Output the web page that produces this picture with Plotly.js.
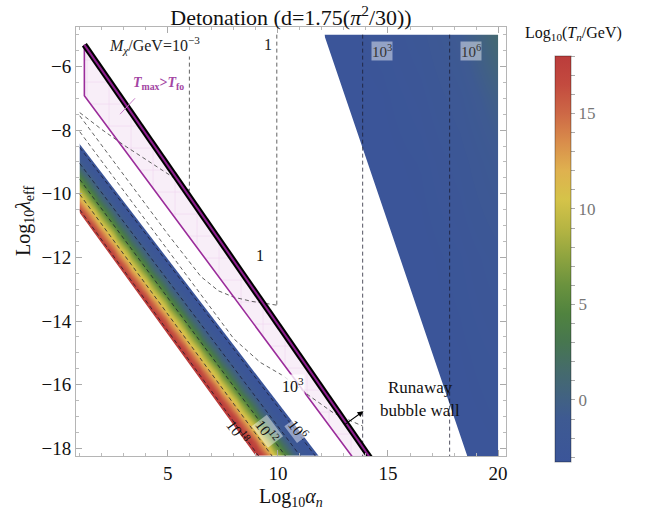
<!DOCTYPE html>
<html><head><meta charset="utf-8">
<script src="https://cdn.plot.ly/plotly-3.0.1.min.js"></script>
<style>body{margin:0;background:#fff}</style>
</head><body><div id="plot" style="width:647px;height:516px"></div>
<script>
// ---------- data ----------
// Tn profile across the nucleating band (offset above its lower edge, at fixed alpha)
const bandS  = [0, 0.2, 0.4, 0.6, 0.8, 1.0, 1.2, 1.4, 1.6, 1.8, 2.0, 2.2];
const bandTn = [18, 15.5, 13, 10.5, 8, 5.5, 3, 1, -0.5, -1.8, -2.8, -3.25];
const bandLower = {x0: 1, y0: -10.6, slope: -0.955};
const bandUpper = {x0: 1, y0: -8.44, slope: -0.903};
const bandAxisSlope = -0.93;

// runaway region (right) Tn grid
const runX = [13, 14.75, 16.5, 18.25, 20];
const runY = [-18, -15, -12, -9, -7, -5];
const runZ = [
  [-3.25, -3.25, -3.25, -3.25, -3.1],
  [-3.25, -3.25, -3.25, -3.1, -2.8],
  [-3.25, -3.25, -3.2, -2.9, -2.3],
  [-3.25, -3.2, -3.0, -2.4, -1.2],
  [-3.25, -3.1, -2.7, -1.8, -0.2],
  [-3.2, -2.9, -2.3, -1.0, 1.2]
];
const runEdgeX = [12.1, 18.6];
const runEdgeY = [-5.0, -18.24];

// runaway wall (thick black) and Tmax>Tfo boundary
const wallX = [1.21, 14.4];
const wallY = [-5.32, -18.51];
const foX = [1.21, 1.21, 13.6];
const foY = [-5.32, -6.92, -18.47];

// M_chi contours: vertical parts
const massX   = [5.98, 9.95, 13.85, 17.8];
const massTop = [-5.0, -5.0, -5.0, -5.0];
const massBot = [-9.9, -13.5, -18.24, -18.24];
// transition curves
const curveAx = [1.0, 2.0, 3.0, 4.0, 4.8, 5.5, 5.98];
const curveAy = [-7.45, -7.98, -8.47, -8.93, -9.3, -9.6, -9.9];
const curveBx = [1.0, 3.0, 5.0, 6.5, 7.3, 8.0, 8.8, 9.95];
const curveBy = [-7.55, -9.41, -11.27, -12.6, -13.05, -13.25, -13.38, -13.5];
const curveCx = [1.0, 4.0, 8.0, 9.2, 10.24, 11.47, 12.51, 12.97, 13.85];
const curveCy = [-8.05, -10.84, -14.56, -15.3, -15.72, -16.37, -16.88, -17.03, -17.3];
// contours inside the band (offset above lower edge at alpha=1)
const bandContS = [0.1, 0.58, 1.05, 1.55, 2.05];

// ---------- build traces ----------
const step = bandS[1] - bandS[0];
const dx = step / Math.abs(bandAxisSlope);
const hx = [], hy = [], hz = [];
for (let c = 0; c <= 51; c++) hx.push(1 + c * dx);
for (let r = 0; r <= 56; r++) hy.push(-19 + r * step);
for (let r = 0; r < hy.length; r++) {
  const row = [];
  for (let c = 0; c < hx.length; c++) {
    const yl = bandLower.y0 + bandAxisSlope * (hx[c] - 1);
    let k = Math.round((hy[r] - yl) / step);
    k = Math.max(0, Math.min(bandTn.length - 1, k));
    row.push(bandTn[k]);
  }
  hz.push(row);
}
const yU = x => bandUpper.y0 + bandUpper.slope * (x - bandUpper.x0);
const yL = x => bandLower.y0 + bandLower.slope * (x - bandLower.x0);

const traces = [];
traces.push({type:'heatmap', x:hx, y:hy, z:hz, zsmooth:'best', coloraxis:'coloraxis', hoverinfo:'skip'});
traces.push({type:'heatmap', x:runX, y:runY, z:runZ, zsmooth:'best', coloraxis:'coloraxis', hoverinfo:'skip'});

function mask(xs, ys) {
  traces.push({type:'scatter', mode:'lines', x:xs, y:ys, fill:'toself', fillcolor:'#ffffff',
    line:{width:0, color:'rgba(0,0,0,0)'}, hoverinfo:'skip', showlegend:false});
}
mask([0.5, 12.4, 12.4, 0.5], [yU(0.5), yU(12.4), -7.5, -7.5]);
mask([0.5, 12.4, 12.4, 0.5], [yL(0.5), yL(12.4), -19.5, -19.5]);
mask([0.5, 1.0, 1.0, 0.5], [-19.5, -19.5, -7.5, -7.5]);
mask([runEdgeX[0], runEdgeX[1], runEdgeX[1], 12.0, 12.0], [runEdgeY[0], runEdgeY[1], -19.5, -19.5, -4.5]);
mask([12.0, 21, 21, 12.0], [runEdgeY[0], runEdgeY[0], -4.0, -4.0]);
mask([20, 21, 21, 20], [-19.5, -19.5, -4.0, -4.0]);

// pink region
traces.push({type:'scatter', mode:'lines', x:wallX.concat(foX.slice().reverse()), y:wallY.concat(foY.slice().reverse()),
  fill:'toself', fillcolor:'#f8edf8',
  fillpattern:{shape:'+', size:22, solidity:0.05, fgcolor:'#efd0ef', bgcolor:'#f8eef8'},
  line:{width:0, color:'rgba(0,0,0,0)'}, hoverinfo:'skip', showlegend:false});

const dashGrey = {color:'rgba(60,60,60,0.8)', width:1, dash:'4px,3px'};
const dashDark = {color:'rgba(25,25,45,0.75)', width:1, dash:'4px,3px'};
function line(xs, ys, style) {
  traces.push({type:'scatter', mode:'lines', x:xs, y:ys, line:style, hoverinfo:'skip', showlegend:false});
}
// band contours
bandContS.forEach(s => {
  const f = s / (bandUpper.y0 - bandLower.y0);
  const sl = bandLower.slope + f * (bandUpper.slope - bandLower.slope);
  line([1, 12.5], [bandLower.y0 + s, bandLower.y0 + s + sl * 11.5], dashDark);
});
line(curveAx, curveAy, dashGrey);
line(curveBx, curveBy, dashGrey);
line(curveCx, curveCy, dashGrey);
massX.forEach((x, i) => line([x, x], [massTop[i], massBot[i]], i >= 2 ? dashDark : dashGrey));

// boundaries
line(foX, foY, {color:'#9b2c9b', width:1.6});
line(wallX, wallY, {color:'#000000', width:6});
line(wallX, wallY, {color:'#8e1e8e', width:2});
// pointer for Tmax>Tfo
line([3.51, 2.83], [-7.0, -7.5], {color:'#c77ac7', width:1});

const serif = 'Liberation Serif';
const ann = [];
function txt(x, y, t, o) {
  ann.push(Object.assign({x:x, y:y, xref:'x', yref:'y', text:t, showarrow:false,
    xanchor:'center', yanchor:'middle',
    font:{family:serif, size:15, color:'#111'}}, o || {}));
}
txt(4.4, -5.31, '<i>M</i><sub><i>χ</i></sub>/GeV=10<sup>−3</sup>', {bgcolor:'#ffffff', borderpad:0, font:{family:serif, size:16, color:'#222'}});
txt(9.56, -5.31, '1', {font:{family:serif, size:16, color:'#222'}});
txt(14.75, -5.5, '10<sup>3</sup>', {bgcolor:'rgba(255,255,255,0.45)', borderpad:0, font:{family:serif, size:15, color:'#333'}});
txt(18.76, -5.5, '10<sup>6</sup>', {bgcolor:'rgba(255,255,255,0.45)', borderpad:0, font:{family:serif, size:15, color:'#333'}});
txt(9.2, -11.94, '1', {font:{family:serif, size:16, color:'#111'}});
txt(10.7, -16.0, '10<sup>3</sup>', {bgcolor:'rgba(255,255,255,0.8)', borderpad:0, font:{family:serif, size:16, color:'#111'}});
txt(8.2, -17.5, '10<sup>18</sup>', {textangle:53, font:{family:serif, size:15, color:'#111'}});
txt(9.5, -17.47, '10<sup>12</sup>', {textangle:53, bgcolor:'rgba(255,255,255,0.45)', borderpad:0, font:{family:serif, size:15, color:'#111'}});
txt(10.92, -17.4, '10<sup>6</sup>', {textangle:53, bgcolor:'rgba(255,255,255,0.45)', borderpad:0, font:{family:serif, size:15, color:'#111'}});
txt(4.56, -6.53, '<b><i>T</i><sub>max</sub>><i>T</i><sub>fo</sub></b>', {font:{family:serif, size:14, color:'#a346a3'}});
txt(16.47, -16.08, 'Runaway', {font:{family:serif, size:17, color:'#111'}});
txt(16.47, -16.8, 'bubble wall', {font:{family:serif, size:17, color:'#111'}});
ann.push({x:13.89, y:-16.83, ax:12.98, ay:-17.28, xref:'x', yref:'y', axref:'x', ayref:'y', text:'',
  showarrow:true, arrowhead:2, arrowsize:1.1, arrowwidth:1.1, arrowcolor:'#000'});
// axis titles and colorbar title
ann.push({xref:'paper', yref:'paper', x:-0.121, y:0.55, xanchor:'center', yanchor:'middle',
  text:'Log<sub>10</sub><i>λ</i><sub>eff</sub>', textangle:-90,
  showarrow:false, font:{family:serif, size:20, color:'#111'}});
ann.push({xref:'paper', yref:'paper', x:0.5, y:-0.0956, xanchor:'center', yanchor:'middle',
  text:'Log<sub>10</sub><i>α</i><sub><i>n</i></sub>',
  showarrow:false, font:{family:serif, size:20, color:'#111'}});
ann.push({xref:'paper', yref:'paper', x:1.156, y:0.986, xanchor:'center', yanchor:'middle',
  text:'Log<sub>10</sub>(<i>T<sub>n</sub></i>/GeV)',
  showarrow:false, font:{family:serif, size:16, color:'#111'}});

const cbVals = [], cbText = [];
for (let v = -3; v <= 18; v++) { cbVals.push(v); cbText.push(v % 5 === 0 ? String(v) : ''); }

const layout = {
  width:647, height:516,
  margin:{l:76, r:141, t:27, b:60},
  paper_bgcolor:'#ffffff', plot_bgcolor:'#ffffff',
  showlegend:false,
  title:{text:'Detonation (d=1.75(<i>π</i><sup>2</sup>/30))', font:{family:serif, size:22, color:'#111'},
    xref:'paper', x:0.5, xanchor:'center', yref:'container', y:0.966, yanchor:'middle'},
  xaxis:{range:[0.83, 20.36], tick0:0, dtick:5, ticks:'inside', ticklen:6, tickcolor:'#aaaaaa',
    showline:true, linecolor:'#b5b5b5', linewidth:1, mirror:'allticks', showgrid:false, zeroline:false,
    tickfont:{family:serif, size:19, color:'#111'},
    minor:{dtick:1, tick0:0, ticks:'inside', ticklen:3, tickcolor:'#bbbbbb'}},
  yaxis:{range:[-18.24, -4.76], tick0:0, dtick:2, ticks:'inside', ticklen:6, tickcolor:'#aaaaaa',
    showline:true, linecolor:'#b5b5b5', linewidth:1, mirror:'allticks', showgrid:false, zeroline:false,
    tickfont:{family:serif, size:19, color:'#111'},
    minor:{dtick:0.5, tick0:0, ticks:'inside', ticklen:3, tickcolor:'#bbbbbb'}},
  coloraxis:{cmin:-3.25, cmax:18,
    colorscale:[[0,'#3b5599'],[0.106,'#3e5a92'],[0.153,'#416184'],[0.224,'#456b6c'],[0.294,'#477650'],
      [0.365,'#50833f'],[0.435,'#6a923e'],[0.506,'#8fa43f'],[0.576,'#b6b543'],[0.647,'#d5c349'],
      [0.718,'#dfb14f'],[0.788,'#d98d4b'],[0.859,'#cd6846'],[0.929,'#c34b3f'],[1,'#bb3c3b']],
    colorbar:{x:1.114, xanchor:'left', xpad:0, ypad:0, thickness:16, thicknessmode:'pixels',
      len:406, lenmode:'pixels', y:0.459, yanchor:'middle', outlinewidth:1, outlinecolor:'rgba(0,0,0,0.35)',
      tickmode:'array', tickvals:cbVals, ticktext:cbText, ticks:'outside', ticklen:4, tickcolor:'#aaaaaa',
      tickfont:{family:serif, size:17, color:'#777'}, title:{text:''}}},
  annotations:ann
};
Plotly.newPlot('plot', traces, layout, {staticPlot:true});
</script></body></html>
